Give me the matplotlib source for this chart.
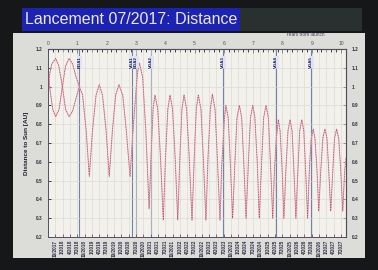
import matplotlib

matplotlib.use("Agg")
import matplotlib.pyplot as plt
from matplotlib.patches import Rectangle
from matplotlib.ticker import MultipleLocator, FormatStrFormatter

plt.rcParams["font.family"] = ["Liberation Sans", "DejaVu Sans"]

TITLE = "Lancement 07/2017: Distance"
LAUNCH_MONTH, LAUNCH_YEAR = 7, 2017

# two launch-phase branches (years from launch, AU) up to the first Earth flyby
t_a = [0.0, 0.06, 0.13, 0.26, 0.37, 0.49, 0.60, 0.72, 0.84, 0.96, 1.07]
r_a = [0.98, 1.07, 1.12, 1.15, 1.11, 1.00, 0.88, 0.84, 0.87, 0.94, 1.00]
t_b = [0.0, 0.08, 0.16, 0.26, 0.38, 0.49, 0.60, 0.72, 0.84, 0.96, 1.07]
r_b = [1.07, 0.97, 0.88, 0.84, 0.88, 1.00, 1.11, 1.15, 1.12, 1.05, 1.00]

# main trajectory after the first flyby
t_main = [1.07, 1.18, 1.30, 1.41, 1.52, 1.64, 1.75, 1.86, 1.98, 2.09,
          2.20, 2.31, 2.42, 2.55, 2.67, 2.80, 2.88, 2.95, 3.01, 3.06, 3.12,
          3.23, 3.34, 3.45, 3.53, 3.59, 3.65,
          3.745, 3.84, 3.935, 4.01, 4.09, 4.164,
          4.25, 4.34, 4.427, 4.50, 4.57, 4.642,
          4.73, 4.82, 4.915, 4.99, 5.06, 5.13,
          5.22, 5.30, 5.39, 5.46, 5.54, 5.61,
          5.70, 5.78, 5.87, 5.93, 5.98, 6.02, 6.07,
          6.15, 6.22, 6.30, 6.38, 6.45, 6.53,
          6.61, 6.68, 6.76, 6.84, 6.91, 6.99,
          7.06, 7.14, 7.21, 7.29, 7.36, 7.44,
          7.52, 7.59, 7.67, 7.73, 7.79, 7.86,
          7.92, 7.99, 8.05, 8.12, 8.19, 8.26,
          8.33, 8.39, 8.46, 8.53, 8.59, 8.66,
          8.73, 8.79, 8.86, 8.92, 8.98, 9.05,
          9.11, 9.18, 9.24, 9.31, 9.38, 9.45,
          9.52, 9.58, 9.65, 9.72, 9.78, 9.85,
          9.92, 9.99, 10.06, 10.12, 10.17]
r_main = [1.00, 0.955, 0.77, 0.523, 0.77, 0.955, 1.01, 0.955, 0.77, 0.523,
          0.77, 0.955, 1.01, 0.955, 0.77, 0.523, 0.72, 0.87, 0.99, 1.08, 1.125,
          1.05, 0.76, 0.35, 0.68, 0.89, 0.955,
          0.88, 0.62, 0.29, 0.62, 0.88, 0.955,
          0.88, 0.62, 0.29, 0.62, 0.88, 0.955,
          0.88, 0.62, 0.29, 0.62, 0.88, 0.955,
          0.88, 0.62, 0.29, 0.62, 0.88, 0.96,
          0.88, 0.62, 0.29, 0.58, 0.72, 0.83, 0.90,
          0.835, 0.60, 0.30, 0.60, 0.835, 0.90,
          0.835, 0.60, 0.30, 0.60, 0.835, 0.90,
          0.835, 0.60, 0.30, 0.60, 0.835, 0.90,
          0.835, 0.60, 0.30, 0.56, 0.72, 0.824,
          0.765, 0.56, 0.30, 0.56, 0.765, 0.824,
          0.765, 0.56, 0.30, 0.56, 0.765, 0.824,
          0.765, 0.56, 0.30, 0.56, 0.72, 0.774,
          0.726, 0.556, 0.338, 0.556, 0.726, 0.774,
          0.726, 0.556, 0.338, 0.556, 0.726, 0.774,
          0.726, 0.556, 0.338, 0.54, 0.62]

# planetary flybys
flyby_t = [1.07, 2.88, 3.01, 3.53, 5.98, 7.79, 8.98]
flyby_lbl = ["EGA1", "VGA1", "EGA2", "VGA2", "VGA3", "VGA4", "VGA5"]

X_MAX = 10.17


def quarter_labels(n):
    out = []
    m, y = LAUNCH_MONTH, LAUNCH_YEAR
    for _ in range(n):
        m += 3
        if m > 12:
            m -= 12
            y += 1
        out.append(f"{m}/{y}")
    return out


def main():
    fig = plt.figure(figsize=(3.78, 2.70), dpi=100)
    fig.patch.set_facecolor("#151719")
    W, H = 378.0, 270.0

    def box(x0, y0, x1, y1, color):
        fig.add_artist(Rectangle((x0 / W, 1 - y1 / H), (x1 - x0) / W, (y1 - y0) / H,
                                 transform=fig.transFigure, facecolor=color,
                                 edgecolor="none", zorder=-5))

    # slide decoration: title band and chart card
    box(240, 8, 362, 31, "#283030")
    box(22, 8, 240, 31, "#1c22b4")
    box(13, 33, 365, 258, "#dcdcd8")
    fig.text(25 / W, 1 - 20 / H, TITLE, color="#ecebd2", fontsize=11.5,
             va="center", ha="left")

    ax = fig.add_axes([48 / W, 1 - 237 / H, 298 / W, 188 / H])
    ax.set_facecolor("#f3f1eb")
    ax.set_xlim(0, X_MAX)
    ax.set_ylim(0.2, 1.2)

    for t, r in ((t_a, r_a), (t_b, r_b), (t_main, r_main)):
        ax.plot(t, r, color="#e6b4c0", lw=0.8, zorder=2)
        ax.plot(t, r, color="#b84a68", lw=0.5, dashes=(2, 1.6), zorder=3)

    for t, lbl in zip(flyby_t, flyby_lbl):
        ax.axvline(t, color="#7282a8", lw=0.8, zorder=1.5)
        ax.text(t, 1.13, lbl, rotation=90, fontsize=3.2, fontweight="bold",
                color="#141a5c", ha="center", va="center", zorder=4,
                bbox=dict(facecolor="#dfe3f2", edgecolor="none", pad=0.3))

    # bottom axis: calendar quarters
    q_ticks = [0.25 * k for k in range(1, 41)]
    ax.set_xticks(q_ticks)
    ax.set_xticklabels(quarter_labels(len(q_ticks)), rotation=90, fontsize=3.3,
                       fontweight="bold", color="#2e2e48")
    ax.tick_params(axis="x", direction="in", length=2, width=0.6, color="#904060", pad=2)
    ax.yaxis.set_major_locator(MultipleLocator(0.1))
    ax.yaxis.set_major_formatter(FormatStrFormatter("%g"))
    ax.tick_params(axis="y", direction="in", length=2, width=0.5, labelsize=3.4,
                   labelcolor="#303040", pad=4)
    for lbl in ax.get_yticklabels():
        lbl.set_fontweight("bold")
    ax.grid(color="#d6d6d0", lw=0.4)
    ax.set_ylabel("Distance to Sun [AU]", fontsize=4.6, fontweight="bold",
                  color="#202030", labelpad=5)

    # top axis: years from launch
    top = ax.secondary_xaxis("top")
    top.set_xticks(range(0, 11))
    top.xaxis.set_minor_locator(MultipleLocator(1 / 6))
    top.tick_params(which="major", direction="in", length=3, width=0.6, labelsize=3.6,
                    labelcolor="#505060", pad=2)
    top.tick_params(which="minor", direction="in", length=1.8, width=0.5)
    fig.text(305 / W, 1 - 35 / H, "Years from launch", fontsize=3.4, color="#404050",
             ha="center", va="center")

    right = ax.secondary_yaxis("right")
    right.yaxis.set_major_locator(MultipleLocator(0.1))
    right.yaxis.set_major_formatter(FormatStrFormatter("%g"))
    right.tick_params(direction="in", length=2, width=0.5, labelsize=3.4,
                      labelcolor="#303040", pad=4)
    for lbl in right.get_yticklabels():
        lbl.set_fontweight("bold")

    for sp in ax.spines.values():
        sp.set_color("#505060")
        sp.set_linewidth(0.7)

    fig.savefig("out.png", dpi=100, facecolor=fig.get_facecolor())
    plt.close(fig)


if __name__ == "__main__":
    main()
